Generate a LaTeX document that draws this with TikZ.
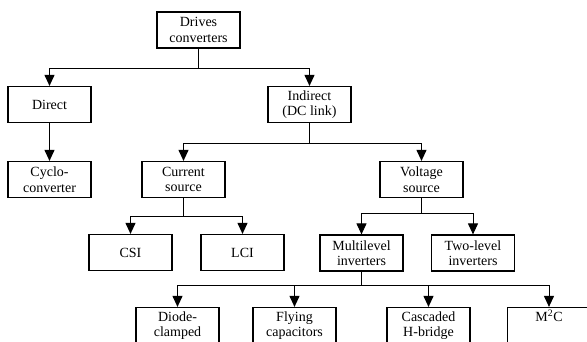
\documentclass[tikz,border=0pt]{standalone}
\usepackage{fontspec}
\setmainfont{Liberation Serif}
\usetikzlibrary{arrows.meta}

\begin{document}
\begin{tikzpicture}[x=1pt, y=1pt, line width=1pt,
	arrows={-Triangle[width=10pt,length=11pt]},
	box/.style={draw, line width=1.2pt, minimum width=83pt, minimum height=36pt,
		inner sep=1pt, align=center, font=\fontsize{14}{15.5}\selectfont}]
	\useasboundingbox (0,0) rectangle (587,-341);
	\clip (0,0) rectangle (587,-341);
	\node[box] (drv) at (198.5,-30) {Drives\\converters};
	\node[box] (dir) at (49.5,-104.5) {Direct};
	\node[box] (ind) at (309.5,-104.5) {Indirect\\(DC link)};
	\node[box] (cyc) at (49.5,-179.5) {Cyclo-\\converter};
	\node[box] (cur) at (183.5,-179.5) {Current\\source};
	\node[box] (vol) at (421.5,-179.5) {Voltage\\source};
	\node[box] (csi) at (130.5,-252.5) {CSI};
	\node[box] (lci) at (242.5,-252.5) {LCI};
	\node[box] (mli) at (361.5,-253) {Multilevel\\inverters};
	\node[box] (two) at (473,-253) {Two-level\\inverters};
	\node[box] (dio) at (177.5,-325.5) {Diode-\\clamped};
	\node[box] (fly) at (294.5,-325.5) {Flying\\capacitors};
	\node[box] (cas) at (428.5,-325.5) {Cascaded\\H-bridge};
	\node[box] (mmc) at (549,-325.5) {M\textsuperscript{2}C\\\strut};
	% junctions
	\coordinate (j1) at (198.5,-68);
	\coordinate (j2) at (309.5,-143);
	\coordinate (j3) at (183.5,-216);
	\coordinate (j4) at (421.5,-213);
	\coordinate (j5) at (361.5,-285);
	\draw[-] (drv) -- (j1);
	\draw (j1) -| (dir);
	\draw (j1) -| (ind);
	\draw (dir) -- (cyc);
	\draw[-] (ind) -- (j2);
	\draw (j2) -| (cur);
	\draw (j2) -| (vol);
	\draw[-] (cur) -- (j3);
	\draw (j3) -| (csi);
	\draw (j3) -| (lci);
	\draw[-] (vol) -- (j4);
	\draw (j4) -| (mli);
	\draw (j4) -| (two);
	\draw[-] (mli) -- (j5);
	\draw (j5) -| (dio);
	\draw (j5) -| (fly);
	\draw (j5) -| (cas);
	\draw (j5) -| (mmc);
\end{tikzpicture}
\end{document}
